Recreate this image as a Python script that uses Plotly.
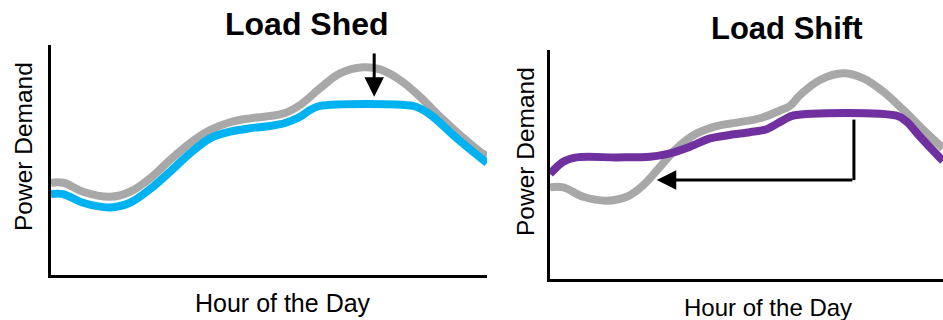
import plotly.graph_objects as go

# ---- data (hour of day, power demand in relative units 0-100) ----
shed_base_hours = [0, 0.68, 1.76, 3.25, 4.35, 5.45, 6.55, 7.65, 8.75, 9.85, 10.95, 12.06, 12.88, 13.71,
                   14.81, 15.91, 17.17, 18.11, 19.21, 20.31, 21.41, 22.51, 23.61, 24]
shed_base_demand = [40.1, 40.1, 36.2, 34.0, 36.2, 42.0, 50.0, 57.3, 63.0, 66.4, 68.1, 69.1, 70.4, 73.9,
                    81.2, 87.7, 90.3, 89.4, 84.8, 77.5, 68.8, 60.9, 53.6, 51.7]

shed_hours = [0, 0.66, 1.76, 3.25, 4.35, 5.45, 6.55, 7.65, 8.75, 9.85, 10.95, 12.06, 12.88, 13.71,
              14.26, 14.81, 19.93, 20.48, 21.03, 22.13, 23.23, 24]
shed_demand = [35.2, 35.2, 31.4, 29.4, 31.4, 37.3, 44.9, 52.9, 59.4, 62.3, 63.8, 64.8, 66.1, 68.8,
               71.7, 73.5, 73.5, 71.7, 68.8, 60.9, 53.6, 48.7]

shift_base_hours = [0, 0.81, 2.03, 3.46, 4.68, 5.70, 6.72, 7.74, 8.96, 10.18, 11.40, 12.82, 14.05, 14.66,
                    15.27, 16.49, 17.91, 19.13, 20.35, 21.58, 22.80, 24]
shift_base_demand = [40.0, 40.0, 35.9, 34.2, 35.9, 41.0, 49.0, 57.1, 63.6, 66.8, 68.3, 70.2, 73.6, 75.6,
                     80.3, 86.9, 89.8, 87.6, 81.8, 73.8, 65.1, 57.1]

shift_hours = [0, 0.81, 1.63, 4.07, 6.11, 7.33, 8.55, 9.77, 10.99, 12.21, 13.23, 14.25, 14.86,
               21.17, 21.78, 22.60, 24]
shift_demand = [45.9, 51.2, 53.1, 53.1, 53.4, 54.9, 57.8, 61.4, 62.9, 64.1, 65.4, 69.4, 71.4,
                71.3, 68.7, 62.1, 51.5]

# arrows: [hour, demand] pairs
shed_arrow_from = [17.79, 97]
shed_arrow_to = [17.79, 77.5]
shift_arrow_path = [[18.56, 69.6], [18.56, 43.2]]
shift_arrow_to = [6.52, 43.2]

titles = ["Load Shed", "Load Shift"]
x_title = "Hour of the Day"
y_title = "Power Demand"

GRAY = "#a8a8a8"
BLUE = "#00b2ef"
PURPLE = "#7030a0"
W, H = 943, 320
LW = 8

fig = go.Figure()
fig.add_trace(go.Scatter(x=shed_base_hours, y=shed_base_demand, mode="lines",
                         line=dict(color=GRAY, width=LW, shape="spline", smoothing=1.1),
                         xaxis="x", yaxis="y", showlegend=False, hoverinfo="skip"))
fig.add_trace(go.Scatter(x=shed_hours, y=shed_demand, mode="lines",
                         line=dict(color=BLUE, width=LW, shape="spline", smoothing=0.9),
                         xaxis="x", yaxis="y", showlegend=False, hoverinfo="skip"))
fig.add_trace(go.Scatter(x=shift_base_hours, y=shift_base_demand, mode="lines",
                         line=dict(color=GRAY, width=LW, shape="spline", smoothing=1.1),
                         xaxis="x2", yaxis="y2", showlegend=False, hoverinfo="skip"))
fig.add_trace(go.Scatter(x=shift_hours, y=shift_demand, mode="lines",
                         line=dict(color=PURPLE, width=LW, shape="spline", smoothing=0.9),
                         xaxis="x2", yaxis="y2", showlegend=False, hoverinfo="skip"))
# vertical leg of the shift arrow
fig.add_trace(go.Scatter(x=[p[0] for p in shift_arrow_path], y=[p[1] for p in shift_arrow_path],
                         mode="lines", line=dict(color="black", width=3),
                         xaxis="x2", yaxis="y2", showlegend=False, hoverinfo="skip"))

def px_x(p):
    return p / W

def px_y(p):
    return 1 - p / H

axis_common = dict(showline=True, linecolor="black", linewidth=3, showgrid=False,
                   zeroline=False, showticklabels=False, ticks="", fixedrange=True)

fig.update_layout(
    width=W, height=H,
    margin=dict(l=0, r=0, t=0, b=0),
    paper_bgcolor="white", plot_bgcolor="white",
    xaxis=dict(domain=[px_x(51), px_x(487)], range=[0, 24], anchor="y", **axis_common),
    yaxis=dict(domain=[px_y(275), px_y(45)], range=[0, 100], anchor="x", **axis_common),
    xaxis2=dict(domain=[px_x(550), 1.0], range=[0, 24], anchor="y2", **axis_common),
    yaxis2=dict(domain=[px_y(279), px_y(50)], range=[0, 100], anchor="x2", **axis_common),
    font=dict(family="Liberation Sans, Arial, sans-serif", color="black"),
)

ann = []
ann.append(dict(text=f"<b>{titles[0]}</b>", x=px_x(307), y=px_y(24), xref="paper", yref="paper",
                showarrow=False, font=dict(size=32), xanchor="center", yanchor="middle"))
ann.append(dict(text=f"<b>{titles[1]}</b>", x=px_x(786.5), y=px_y(28), xref="paper", yref="paper",
                showarrow=False, font=dict(size=31), xanchor="center", yanchor="middle"))
ann.append(dict(text=x_title, x=px_x(283), y=px_y(303), xref="paper", yref="paper",
                showarrow=False, font=dict(size=25), xanchor="center", yanchor="middle"))
ann.append(dict(text=x_title, x=px_x(768), y=px_y(307), xref="paper", yref="paper",
                showarrow=False, font=dict(size=24), xanchor="center", yanchor="middle"))
ann.append(dict(text=y_title, x=px_x(23), y=px_y(147), xref="paper", yref="paper", textangle=-90,
                showarrow=False, font=dict(size=24.5), xanchor="center", yanchor="middle"))
ann.append(dict(text=y_title, x=px_x(525), y=px_y(152), xref="paper", yref="paper", textangle=-90,
                showarrow=False, font=dict(size=24.5), xanchor="center", yanchor="middle"))
# arrows
ann.append(dict(x=shed_arrow_to[0], y=shed_arrow_to[1], ax=shed_arrow_from[0], ay=shed_arrow_from[1],
                xref="x", yref="y", axref="x", ayref="y", text="", showarrow=True,
                arrowhead=2, arrowsize=1.3, arrowwidth=3, arrowcolor="black"))
ann.append(dict(x=shift_arrow_to[0], y=shift_arrow_to[1], ax=shift_arrow_path[-1][0], ay=shift_arrow_path[-1][1],
                xref="x2", yref="y2", axref="x2", ayref="y2", text="", showarrow=True,
                arrowhead=2, arrowsize=1.3, arrowwidth=3, arrowcolor="black"))
fig.update_layout(annotations=ann)

fig.write_html("out.html", config={"displayModeBar": False, "staticPlot": True},
               post_script="document.body.style.margin='0';document.body.style.overflow='hidden';")
